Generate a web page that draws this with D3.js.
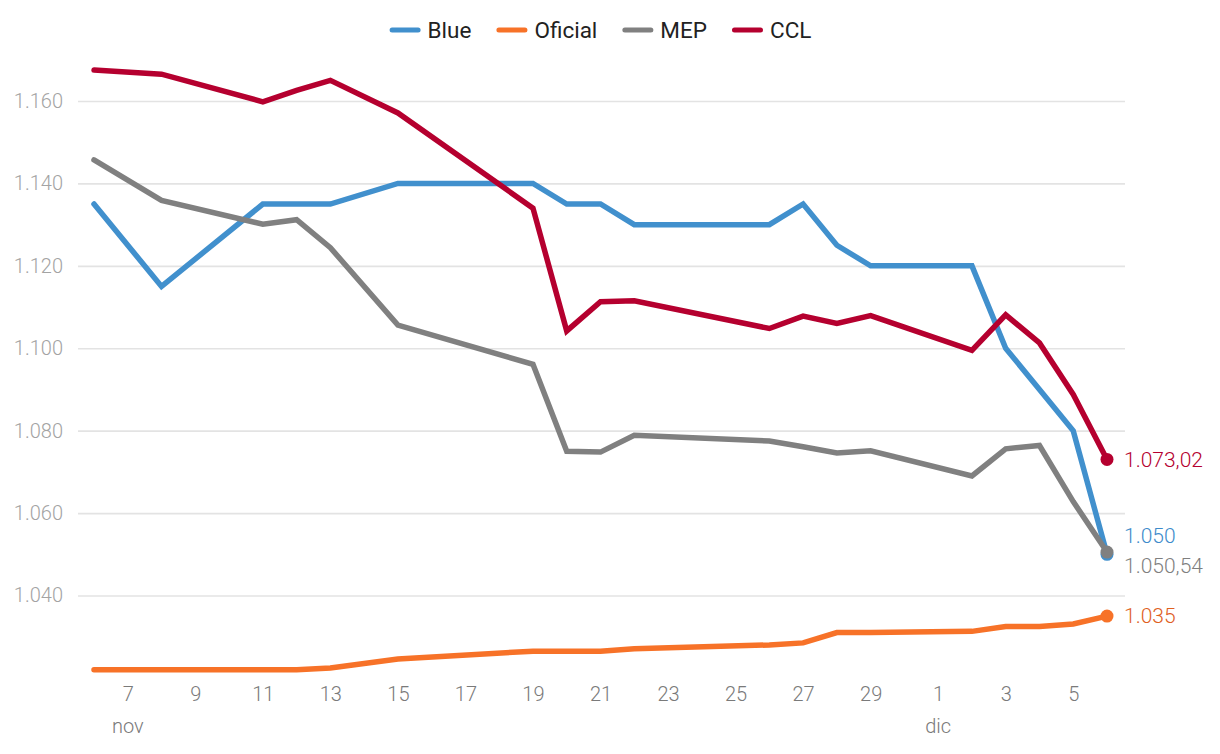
<!DOCTYPE html>
<html>
<head>
<meta charset="utf-8">
<script src="https://cdn.jsdelivr.net/npm/d3@7"></script>
<style>
  html, body { margin: 0; padding: 0; background: #fff; }
  svg { display: block; font-family: Roboto, "Noto Sans", sans-serif; }
</style>
</head>
<body>
<svg id="chart" width="1220" height="754"></svg>
<script>
// ---- data ----
const dates = ["2024-11-06","2024-11-08","2024-11-11","2024-11-12","2024-11-13","2024-11-15",
  "2024-11-19","2024-11-20","2024-11-21","2024-11-22","2024-11-26","2024-11-27","2024-11-28",
  "2024-11-29","2024-12-02","2024-12-03","2024-12-04","2024-12-05","2024-12-06"];
const blue    = [1135,1115,1135,1135,1135,1140,1140,1135,1135,1130,1130,1135,1125,1120,1120,1100,1090,1080,1050];
const oficial = [1022,1022,1022,1022,1022.4,1024.6,1026.5,1026.5,1026.5,1027.1,1028,1028.5,1031,1031,1031.3,1032.5,1032.5,1033.1,1035];
const mep     = [1145.7,1135.9,1130.1,1131.2,1124.4,1105.6,1096.1,1075,1074.8,1078.9,1077.5,1076.1,1074.6,1075.1,1069,1075.6,1076.4,1062.8,1050.54];
const ccl     = [1167.5,1166.5,1159.8,1162.6,1165,1157.1,1134,1104.2,1111.3,1111.5,1104.8,1107.8,1106,1107.9,1099.5,1108.1,1101.3,1088.8,1073.02];
const seriesNames = ["Blue","Oficial","MEP","CCL"];
const yTicks = [1040,1060,1080,1100,1120,1140,1160];
const xTicks = ["2024-11-07","2024-11-09","2024-11-11","2024-11-13","2024-11-15","2024-11-17","2024-11-19",
  "2024-11-21","2024-11-23","2024-11-25","2024-11-27","2024-11-29","2024-12-01","2024-12-03","2024-12-05"];
const monthTicks = ["2024-11-07","2024-12-01"];
const monthLabels = ["nov","dic"];

// ---- styles ----
const colors = {Blue:"#4190cd", Oficial:"#f77228", MEP:"#808080", CCL:"#b5002f"};
const labelColors = {Blue:"#3d8bcb", Oficial:"#e0601e", MEP:"#7f7f7f", CCL:"#b5002f"};
const labelNudge = {Blue:-19, Oficial:0, MEP:14, CCL:0};

const parse = d3.timeParse("%Y-%m-%d");
const values = {Blue: blue, Oficial: oficial, MEP: mep, CCL: ccl};
const series = seriesNames.map(name => ({
  name, points: dates.map((d, i) => ({date: parse(d), value: values[name][i]}))
}));

const locale = d3.formatLocale({decimal: ",", thousands: ".", grouping: [3], currency: ["$", ""]});
const fmt0 = locale.format(",.0f");
const fmt2 = locale.format(",.2f");
const fmtVal = v => Number.isInteger(v) ? fmt0(v) : fmt2(v);

const svg = d3.select("#chart");
const x = d3.scaleTime().domain([parse(dates[0]), parse(dates[dates.length-1])]).range([94, 1107]);
const y = d3.scaleLinear().domain([1040, 1160]).range([595.5, 101]);
const gridLeft = 78, gridRight = 1125;

// grid + y axis
const yAxis = d3.axisLeft(y).tickValues(yTicks).tickFormat(fmt0)
  .tickSize(-(gridRight - gridLeft)).tickPadding(15);
const gy = svg.append("g").attr("transform", `translate(${gridLeft},0)`).call(yAxis);
gy.select(".domain").remove();
gy.selectAll(".tick line").attr("stroke", "#e3e3e3").attr("stroke-width", 1.6);
gy.selectAll(".tick text").attr("fill", "#a3a3a3").attr("font-size", 20).attr("font-weight", 300)
  .attr("font-family", "Roboto, sans-serif");

// x axis
const xAxis = d3.axisBottom(x).tickValues(xTicks.map(parse)).tickFormat(d3.timeFormat("%-d"))
  .tickSize(0).tickPadding(7);
const gx = svg.append("g").attr("transform", "translate(0,680)").call(xAxis);
gx.select(".domain").remove();
gx.selectAll(".tick text").attr("fill", "#7a7a7a").attr("font-size", 20).attr("font-weight", 300)
  .attr("font-family", "Roboto, sans-serif");

svg.append("g").selectAll("text").data(monthTicks).join("text")
  .attr("x", d => x(parse(d))).attr("y", 733)
  .attr("text-anchor", "middle").attr("fill", "#7a7a7a").attr("font-size", 20).attr("font-weight", 300)
  .text((d, i) => monthLabels[i]);

// lines
const line = d3.line().x(d => x(d.date)).y(d => y(d.value));
const gl = svg.append("g");
series.forEach(s => {
  gl.append("path").datum(s.points)
    .attr("fill", "none").attr("stroke", colors[s.name]).attr("stroke-width", 5.5)
    .attr("stroke-linecap", "round").attr("stroke-linejoin", "miter")
    .attr("d", line);
});
series.forEach(s => {
  const last = s.points[s.points.length - 1];
  gl.append("circle").attr("cx", x(last.date)).attr("cy", y(last.value)).attr("r", 6.5)
    .attr("fill", colors[s.name]);
});
series.forEach(s => {
  const last = s.points[s.points.length - 1];
  gl.append("text").attr("x", x(last.date) + 17).attr("y", y(last.value) + labelNudge[s.name])
    .attr("dy", "0.35em").attr("fill", labelColors[s.name]).attr("font-size", 21).attr("font-weight", 300)
    .text(fmtVal(last.value));
});

// legend
const legend = svg.append("g").attr("transform", "translate(0,30)");
let cursor = 0;
const gap = 25;
seriesNames.forEach(name => {
  const g = legend.append("g");
  g.append("line").attr("x1", 2.5).attr("x2", 28.5).attr("y1", 0).attr("y2", 0)
    .attr("stroke", colors[name]).attr("stroke-width", 5).attr("stroke-linecap", "round");
  const t = g.append("text").attr("x", 38).attr("dy", "0.35em").attr("font-size", 22.5)
    .attr("font-weight", 400).attr("fill", "#222").text(name);
  const w = 38 + t.node().getComputedTextLength();
  g.attr("transform", `translate(${cursor},0)`);
  cursor += w + gap;
});
const totalW = cursor - gap;
legend.attr("transform", `translate(${(600.5 - totalW / 2).toFixed(1)},30)`);
</script>
</body>
</html>
